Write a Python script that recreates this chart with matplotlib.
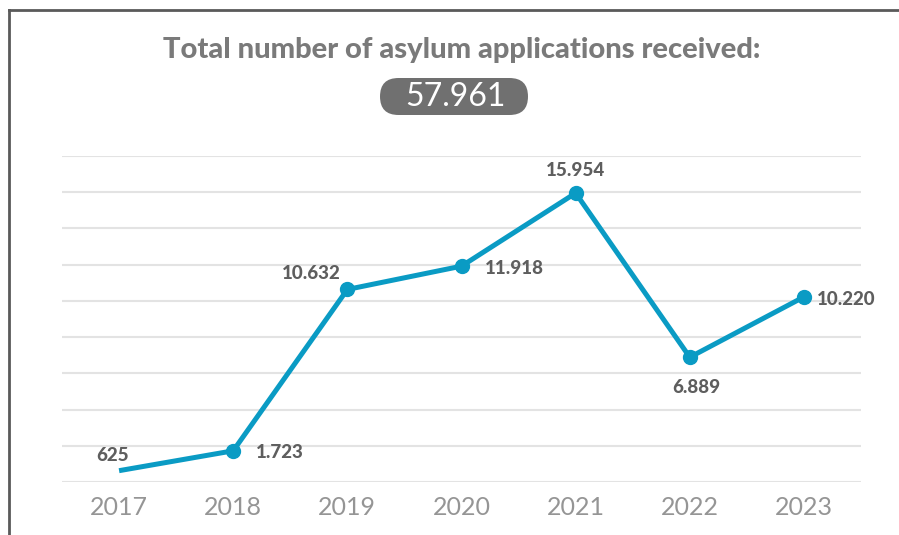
import numpy as np
import matplotlib
matplotlib.use("Agg")
from matplotlib import pyplot as plt
from matplotlib.lines import Line2D
from matplotlib.patches import FancyBboxPatch

years = ["2017", "2018", "2019", "2020", "2021", "2022", "2023"]
applications = [625, 1723, 10632, 11918, 15954, 6889, 10220]
value_labels = ["625", "1.723", "10.632", "11.918", "15.954", "6.889", "10.220"]
total_label = "57.961"
title = "Total number of asylum applications received:"

# label placement per point: (dx, dy) in points, horizontal alignment
label_offsets = [(-5, 11), (16, -1), (-5, 11.5), (16.5, -2), (0, 16.5), (5, -22), (9, -2)]
label_ha = ["center", "left", "right", "left", "center", "center", "left"]

line_color = "#0a9bc4"
label_color = "#5e5e5e"

fig = plt.figure(figsize=(8.99, 5.35), dpi=100)
ax = fig.add_axes([62 / 899, 1 - 482 / 535, (861 - 62) / 899, (482 - 156) / 535])

x = np.arange(len(years))
ax.plot(x, applications, color=line_color, linewidth=3.6, marker="o",
        markersize=10, markevery=list(range(1, len(years))), solid_capstyle="butt")

for i, (val, lab) in enumerate(zip(applications, value_labels)):
    ax.annotate(lab, (x[i], val), xytext=label_offsets[i], textcoords="offset points",
                ha=label_ha[i], va="center", fontsize=13.5, fontweight="black",
                color=label_color, family="Lato")

ax.set_xlim(-0.5, len(years) - 0.5)
ax.set_ylim(0, 18000)
ax.set_yticks(np.arange(0, 18001, 2000))
ax.set_xticks(x)
ax.set_xticklabels(years, fontsize=18, color="#959595", family="Lato", fontweight="normal")
ax.tick_params(axis="x", length=0, pad=10)
ax.tick_params(axis="y", length=0, labelleft=False)
ax.grid(axis="y", color="#e3e3e3", linewidth=1.5)
ax.set_axisbelow(True)
for s in ax.spines.values():
    s.set_visible(False)

fig.text(462 / 899, 1 - 50 / 535, title, ha="center", va="center", fontsize=21,
         fontweight="black", color="#7a7a7a", family="Lato")

# grey pill behind the total (display pixels)
pill = FancyBboxPatch((380, 535 - 115), 148, 37,
                      boxstyle="round,pad=0,rounding_size=18.5",
                      fc="#707070", ec="none", transform=None)
fig.add_artist(pill)
fig.text(455 / 899, 1 - 97 / 535, total_label, ha="center", va="center", fontsize=23,
         fontweight="normal", color="white", family="Lato")

# frame lines on left and top
fig.add_artist(Line2D([9 / 899, 9 / 899], [0, 1 - 10 / 535], color="#5a5a5a", linewidth=2,
                      transform=fig.transFigure))
fig.add_artist(Line2D([9 / 899, 1], [1 - 10 / 535, 1 - 10 / 535], color="#5a5a5a", linewidth=2,
                      transform=fig.transFigure))

fig.savefig("out.png", dpi=100)
